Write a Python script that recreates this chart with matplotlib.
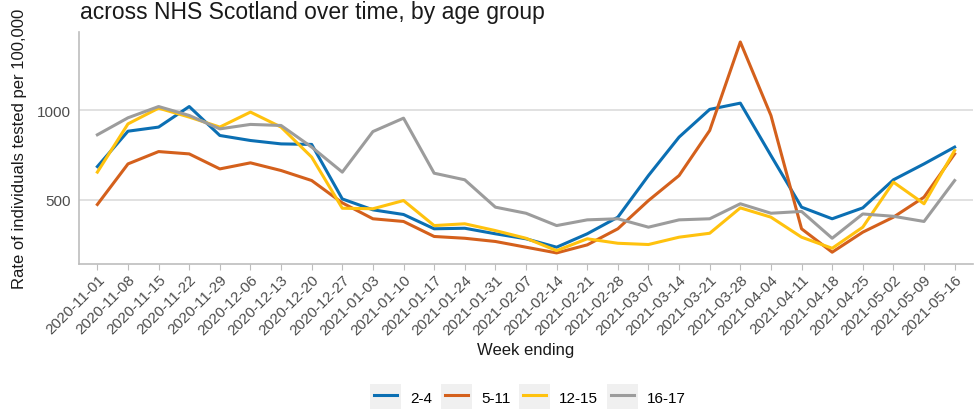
import matplotlib
matplotlib.use("Agg")
import matplotlib.pyplot as plt
from matplotlib.legend_handler import HandlerLine2D
from matplotlib.patches import Rectangle

plt.rcParams["font.family"] = ["Liberation Sans", "DejaVu Sans"]

weeks = [
    "2020-11-01", "2020-11-08", "2020-11-15", "2020-11-22", "2020-11-29",
    "2020-12-06", "2020-12-13", "2020-12-20", "2020-12-27", "2021-01-03",
    "2021-01-10", "2021-01-17", "2021-01-24", "2021-01-31", "2021-02-07",
    "2021-02-14", "2021-02-21", "2021-02-28", "2021-03-07", "2021-03-14",
    "2021-03-21", "2021-03-28", "2021-04-04", "2021-04-11", "2021-04-18",
    "2021-04-25", "2021-05-02", "2021-05-09", "2021-05-16",
]

age_2_4 = [686, 884, 907, 1022, 860, 832, 813, 810, 505, 444, 418, 338, 341, 310,
           282, 235, 310, 403, 636, 851, 1006, 1041, 748, 459, 394, 455, 612, 701, 795]
age_5_11 = [474, 701, 770, 757, 673, 707, 664, 608, 483, 394, 379, 295, 285, 267,
            235, 203, 248, 338, 496, 636, 888, 1383, 972, 338, 207, 319, 403, 515, 757]
age_12_15 = [655, 925, 1013, 963, 907, 991, 907, 739, 453, 450, 496, 356, 366, 328,
             285, 216, 282, 257, 250, 291, 313, 455, 403, 291, 229, 347, 599, 478, 776]
age_16_17 = [864, 959, 1022, 972, 897, 922, 916, 795, 655, 882, 957, 649, 612, 459,
             425, 356, 388, 394, 347, 388, 394, 478, 425, 435, 285, 421, 408, 379, 608]

groups = ["2-4", "5-11", "12-15", "16-17"]
series = [age_2_4, age_5_11, age_12_15, age_16_17]
colours = ["#0B6FB3", "#D4601C", "#FFC20E", "#9C9C9C"]


# legend key with the grey ggplot-style background box
class KeyHandler(HandlerLine2D):
    def create_artists(self, legend, orig_handle, xdescent, ydescent,
                       width, height, fontsize, trans):
        bg = Rectangle((-xdescent - 3, -ydescent - 4), width + 6, height + 8,
                       facecolor="#f0f0f0", edgecolor="none", transform=trans)
        arts = super().create_artists(legend, orig_handle, xdescent, ydescent,
                                      width, height, fontsize, trans)
        return [bg] + list(arts)


fig = plt.figure(figsize=(9.8, 4.1), dpi=100)
ax = fig.add_axes([79 / 980, 1 - 265 / 410, (973 - 79) / 980, (265 - 33) / 410])

x = list(range(len(weeks)))
lines = []
for name, vals, col in zip(groups, series, colours):
    ln, = ax.plot(x, vals, color=col, lw=2.2, label=name, solid_joinstyle="round")
    lines.append(ln)

ax.set_xlim(-0.6, len(weeks) - 1 + 0.6)
ax.set_ylim(141, 1439)
ax.set_yticks([500, 1000])
ax.set_xticks(x)
ax.set_xticklabels(weeks, rotation=45, ha="right", rotation_mode="anchor")

ax.grid(axis="y", color="#d9d9d9", lw=1.1)
ax.set_axisbelow(True)
for side in ["top", "right"]:
    ax.spines[side].set_visible(False)
for side in ["left", "bottom"]:
    ax.spines[side].set_color("#bdbdbd")
    ax.spines[side].set_linewidth(1.2)
ax.tick_params(axis="x", colors="#bdbdbd", labelcolor="#4d4d4d", length=4,
               labelsize=11, pad=2)
ax.tick_params(axis="y", length=0, labelcolor="#4d4d4d", labelsize=11, pad=6)

ax.set_ylabel("Rate of individuals tested per 100,000", fontsize=12,
              color="#1a1a1a", labelpad=7)
ax.set_xlabel("Week ending", fontsize=12, color="#1a1a1a", labelpad=3)

fig.text(80 / 980, 1 - 19 / 410, "across NHS Scotland over time, by age group",
         fontsize=16.5, color="#1a1a1a", va="baseline", ha="left")

fig.legend(handles=lines, labels=groups, loc="center", ncol=4,
           bbox_to_anchor=(530 / 980, 1 - 398 / 410), frameon=False,
           fontsize=11, handlelength=1.5, handleheight=1.1, handletextpad=0.85,
           columnspacing=0.85,
           handler_map={ln: KeyHandler() for ln in lines})

fig.savefig("out.png", dpi=100)
